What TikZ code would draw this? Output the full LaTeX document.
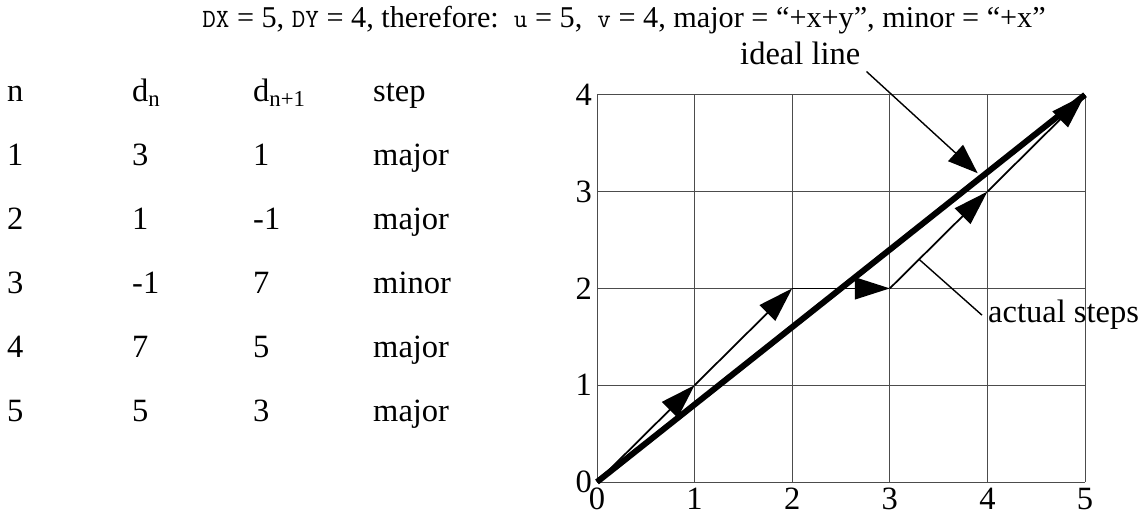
\documentclass[tikz,border=0pt]{standalone}
\usepackage{fontspec}
\setmainfont{Liberation Serif}
\usepackage{tikz}
\usetikzlibrary{calc,arrows.meta}
\newcommand{\codetxt}[1]{{\fontsize{15}{17}\selectfont\ttfamily #1}}

\begin{document}
\begin{tikzpicture}[x=0.2mm,y=0.2mm,
	every node/.style={font=\fontsize{18.5}{22}\selectfont},
	txt/.style={anchor=base west},
	grille/.style={color=black!70,line width=0.5pt,xstep=1,ystep=1},
	ideal/.style={line width=3.4pt},
	pas/.style={line width=1pt,-{Triangle[length=7mm,width=4.4mm]}},
	renvoi/.style={line width=0.8pt}]
	\useasboundingbox (0,0) rectangle (1145,515);
	% titre
	\node[anchor=base,font=\fontsize{17.2}{20}\selectfont] (titre) at (624,487) {\codetxt{DX} = 5, \codetxt{DY} = 4, therefore:\ \ \codetxt{u} = 5,\ \ \codetxt{v} = 4, major = “+x+y”, minor = “+x”};
	% tableau des pas
	\foreach \ligne/\rang/\dn/\dsuiv/\genre in
	{0/n/d\textsubscript{n}/d\textsubscript{n+1}/step,
	1/1/3/1/major,
	2/2/1/-1/major,
	3/3/-1/7/minor,
	4/4/7/5/major,
	5/5/5/3/major}
		{\node[txt] (rang\ligne) at (1,413-64*\ligne) {\rang};
		\node[txt] (dn\ligne) at (126,413-64*\ligne) {\dn};
		\node[txt] (dsuiv\ligne) at (247,413-64*\ligne) {\dsuiv};
		\node[txt] (genre\ligne) at (367,413-64*\ligne) {\genre};}
	% grille et pas
	\begin{scope}[shift={(597,33)},x=19.52mm,y=19.36mm]
		\draw[grille] (0,0) grid (5,4);
		\foreach \i in {0,...,5}
			\node[anchor=base,inner sep=0pt] (axex\i) at (\i,-0.28) {\i};
		\foreach \j in {0,...,4}
			\node[anchor=east,inner sep=0pt] (axey\j) at (-0.05,\j) {\j};
		\coordinate (p0) at (0,0);
		\coordinate (p1) at (1,1);
		\coordinate (p2) at (2,2);
		\coordinate (p3) at (3,2);
		\coordinate (p4) at (4,3);
		\coordinate (p5) at (5,4);
		\coordinate (pointideal) at (3.9,3.19);
		\coordinate (pointpas) at ($(p3)!0.3!(p4)$);
		\draw[ideal] (p0) -- (p5);
		\draw[pas] (p0) -- (p1);
		\draw[pas] (p1) -- (p2);
		\draw[pas] (p2) -- (p3);
		\draw[pas] (p3) -- (p4);
		\draw[pas] (p4) -- (p5);
	\end{scope}
	% legendes
	\node[txt] (ligneideale) at (734,450) {ideal line};
	\node[txt] (pasreels) at (982,192) {actual steps};
	\draw[renvoi,-{Triangle[length=6mm,width=4.4mm]}] (ligneideale.south east) -- (pointideal);
	\draw[renvoi] (pasreels.west) -- (pointpas);
\end{tikzpicture}
\end{document}
